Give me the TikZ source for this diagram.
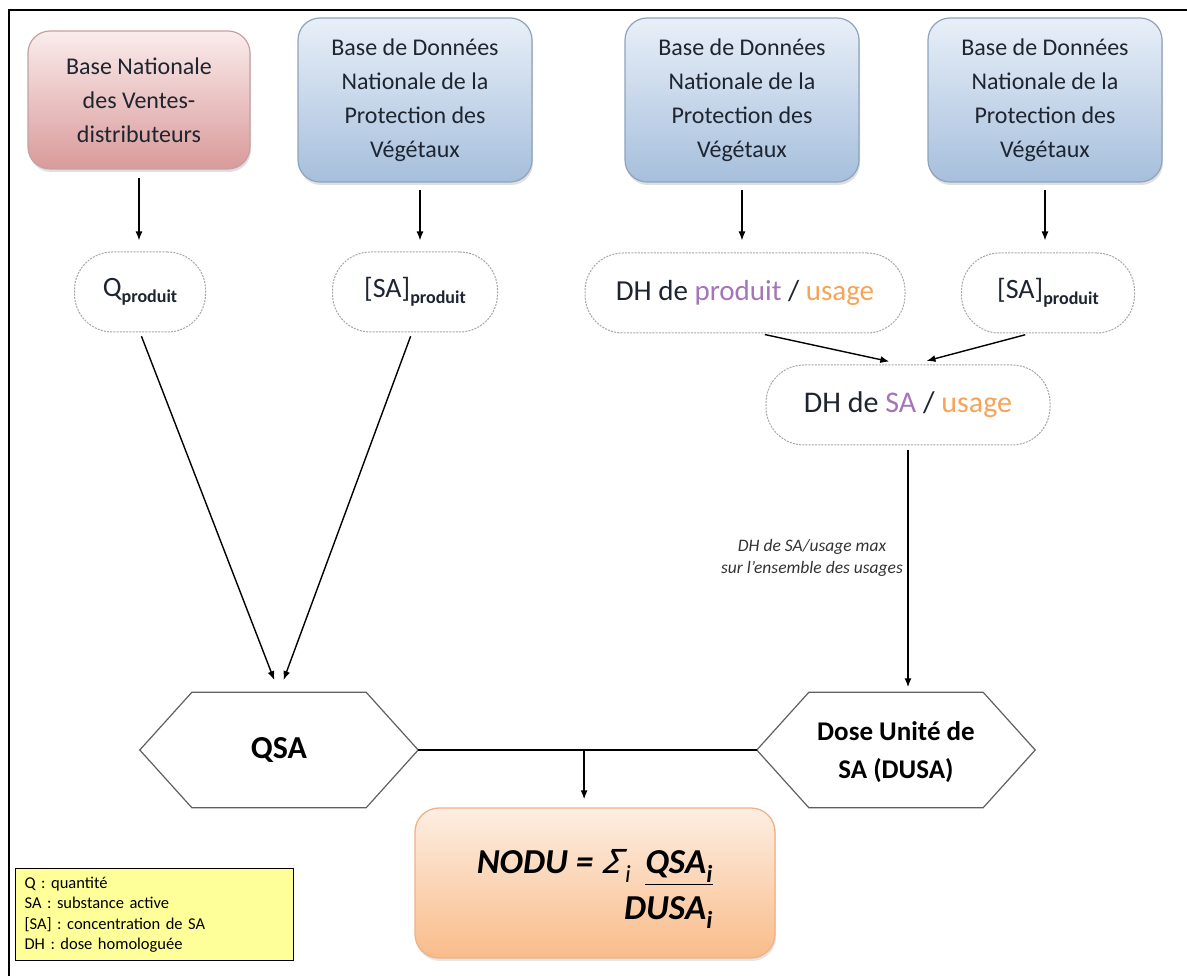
\documentclass[tikz,border=0pt]{standalone}
\usepackage{fontspec}
\setmainfont{Carlito}
\newfontfamily\sigfont[FakeSlant=0.22]{DejaVu Sans}
\usetikzlibrary{arrows.meta,shadows,calc}
\definecolor{pinktop}{HTML}{FBECEC}
\definecolor{pinkbot}{HTML}{D99A9A}
\definecolor{pinkedge}{HTML}{C4A2A2}
\definecolor{bluetop}{HTML}{E8EFF8}
\definecolor{bluebot}{HTML}{A6BFDC}
\definecolor{blueedge}{HTML}{8FA3BB}
\definecolor{orgtop}{HTML}{FDEEE2}
\definecolor{orgbot}{HTML}{F9BC8A}
\definecolor{orgedge}{HTML}{F2B088}
\definecolor{legfill}{HTML}{FFFF99}
\definecolor{purp}{HTML}{A475B8}
\definecolor{orng}{HTML}{F6A457}
\definecolor{txtdark}{HTML}{1E2530}
\begin{document}
\begin{tikzpicture}[x=1pt,y=-1pt,
  srcbox/.style={rounded corners=22pt, line width=1.2pt, align=center,
    font=\fontsize{24}{34}\selectfont, text=txtdark,
    drop shadow={opacity=0.25, shadow xshift=1pt, shadow yshift=-3pt}},
  bluebox/.style={srcbox, draw=blueedge, top color=bluetop, bottom color=bluebot,
    minimum width=234pt, minimum height=164pt},
  pinkbox/.style={srcbox, draw=pinkedge, top color=pinktop, bottom color=pinkbot,
    minimum width=222pt, minimum height=138pt},
  oval/.style={draw=gray!70, line width=1pt, dash pattern=on 2pt off 1.2pt,
    rounded corners=38pt, minimum height=80pt, text=txtdark},
  hexnode/.style={minimum width=278pt, minimum height=115pt, text=black,
    font=\fontsize{27}{38}\selectfont\bfseries, align=center},
  hexline/.style={draw=gray!75!black, line width=1.2pt, fill=white},
  arr/.style={line width=1.4pt, -{Latex[length=9pt,width=7pt]}},
  plain/.style={line width=1.4pt},
  formula/.style={anchor=east, align=right, font=\fontsize{35}{46}\selectfont\bfseries\itshape, inner sep=0pt}
]
\useasboundingbox (0,0) rectangle (1187,976);
\fill[white] (0,0) rectangle (1187,976);
\draw[line width=1.6pt] (9,976) -- (9,10) -- (1187,10);

% source boxes
\node[pinkbox] (b1) at (139,100) {Base Nationale\\des Ventes-\\distributeurs};
\node[bluebox] (b2) at (415,100) {Base de Données\\Nationale de la\\Protection des\\Végétaux};
\node[bluebox] (b3) at (742,100) {Base de Données\\Nationale de la\\Protection des\\Végétaux};
\node[bluebox] (b4) at (1045,100) {Base de Données\\Nationale de la\\Protection des\\Végétaux};

% ovals
\node[oval, minimum width=131pt] (o1) at (140,292)
  {{\fontsize{28}{30}\selectfont Q}{\fontsize{18}{20}\selectfont\bfseries\raisebox{-6pt}{produit}}};
\node[oval, minimum width=165pt] (o2) at (415,292)
  {{\fontsize{28}{30}\selectfont [SA]}{\fontsize{18}{20}\selectfont\bfseries\raisebox{-6pt}{produit}}};
\node[oval, minimum width=320pt, font=\fontsize{29}{32}\selectfont] (o3) at (745,293)
  {DH de \textcolor{purp}{produit} / \textcolor{orng}{usage}};
\node[oval, minimum width=173pt] (o4) at (1048,293)
  {{\fontsize{28}{30}\selectfont [SA]}{\fontsize{18}{20}\selectfont\bfseries\raisebox{-6pt}{produit}}};
\node[oval, minimum width=284pt, font=\fontsize{30}{32}\selectfont] (o5) at (908,405)
  {DH de \textcolor{purp}{SA} / \textcolor{orng}{usage}};

% hexagons
\node[hexnode] (qsa) at (279,750) {};
\node[hexnode] (dusa) at (896,750) {};
\foreach \h in {qsa,dusa}{
  \draw[hexline] (\h.west) -- ([xshift=52pt]\h.north west) -- ([xshift=-52pt]\h.north east)
    -- (\h.east) -- ([xshift=-52pt]\h.south east) -- ([xshift=52pt]\h.south west) -- cycle;
}
\node[hexnode, font=\fontsize{32}{38}\selectfont\bfseries] (qsat) at (qsa.center) {QSA};
\node[hexnode] (dusat) at ([yshift=-2pt]dusa.center) {Dose Unité de\\SA (DUSA)};

% NODU box
\node[draw=orgedge, line width=1.3pt, rounded corners=24pt, top color=orgtop, bottom color=orgbot,
  minimum width=360pt, minimum height=150pt,
  drop shadow={opacity=0.2, shadow xshift=1pt, shadow yshift=-3pt}] (nodu) at (595,883) {};
\node[formula] (f1) at (713,889)
  {NODU = {\sigfont\mdseries\fontsize{33}{36}\selectfont Σ}\kern3pt\textsubscript{\mdseries i}\hspace{14pt}\underline{QSA\textsubscript{i}}\\
   DUSA\textsubscript{i}};

% legend
\node[draw=black, line width=1.2pt, fill=legfill, anchor=north west, text width=260pt,
  inner xsep=9pt, inner ysep=5pt, align=left, font=\fontsize{16.5}{20.5}\selectfont,
  minimum height=92pt] (leg) at (15,868)
  {Q : quantité\\SA : substance active\\{[SA]} : concentration de SA\\DH : dose homologuée};

% italic label
\node[align=center, font=\fontsize{17.5}{22}\selectfont\itshape, text=black!80] (lbl) at (812,558)
  {DH de SA/usage max\\sur l’ensemble des usages};

% connectors
\draw[arr, shorten <=8pt, shorten >=11pt] (b1.south) -- (b1.south |- o1.north);
\draw[arr, shorten <=7pt, shorten >=11pt] ([xshift=5pt]b2.south) -- ([xshift=5pt]b2.south |- o2.north);
\draw[arr, shorten <=7pt, shorten >=12pt] (b3.south) -- (b3.south |- o3.north);
\draw[arr, shorten <=7pt, shorten >=12pt] (b4.south) -- (b4.south |- o4.north);
\draw[arr, shorten <=4pt, shorten >=13pt] (o1.south) -- (qsa.north);
\draw[arr, shorten <=4pt, shorten >=13pt] ([xshift=-3pt]o2.south) -- (qsa.north);
\draw[arr, shorten <=5pt, shorten >=14pt] ([xshift=15pt]o3.south) -- ([xshift=-5pt]o5.north);
\draw[arr, shorten <=5pt, shorten >=14pt] ([xshift=-18pt]o4.south) -- ([xshift=5pt]o5.north);
\draw[arr, shorten <=4pt, shorten >=5pt] (o5.south) -- (o5.south |- dusa.north);
\draw[plain] (qsa.east) -- (dusa.west);
\coordinate (mid) at ($(qsa.east)!0.49!(dusa.west)$);
\draw[arr, shorten >=8pt] (mid) -- (mid |- nodu.north);
\end{tikzpicture}
\end{document}
